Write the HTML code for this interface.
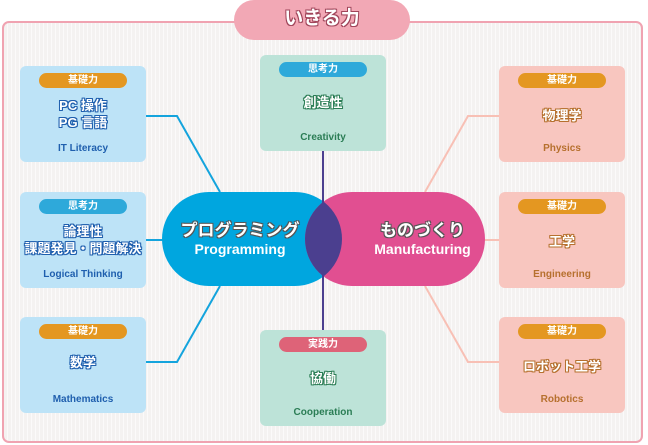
<!DOCTYPE html>
<html><head><meta charset="utf-8"><style>
*{margin:0;padding:0;box-sizing:border-box}
body{width:648px;height:445px;position:relative;background:#fff;font-family:"Liberation Sans","Noto Sans CJK JP",sans-serif;overflow:hidden}
.frame{position:absolute;left:2px;top:21px;width:641px;height:422px;border:2px solid #f0a3b1;border-radius:7px;background:repeating-linear-gradient(90deg,#f4f2f1 0,#f4f2f1 3px,#fbfafa 3px,#fbfafa 4px)}
.title{position:absolute;left:234px;top:0;width:176px;height:40px;border-radius:20px;background:#f2a8b5;color:#fff;font-weight:bold;font-size:19px;text-align:center;line-height:38px;text-shadow:1px 1px 0 #a0455a,-1px -1px 0 #a0455a,1px -1px 0 #a0455a,-1px 1px 0 #a0455a}
.box{position:absolute;width:126px;height:96px;border-radius:6px;text-align:center}
.badge{position:absolute;left:19px;top:7px;width:88px;height:15px;border-radius:8px;color:#fff;font-size:10px;font-weight:bold;line-height:15px}
.t{position:absolute;left:0;width:100%;font-size:13px;font-weight:bold;color:#fff;line-height:17px}
.e{position:absolute;left:0;width:100%;top:77px;font-size:10px;font-weight:bold}
.b .t{text-shadow:1px 1px 0 #1f5fae,-1px -1px 0 #1f5fae,1px -1px 0 #1f5fae,-1px 1px 0 #1f5fae,0 1px 0 #1f5fae,0 -1px 0 #1f5fae,1px 0 0 #1f5fae,-1px 0 0 #1f5fae}
.b{background:#bde3f7}.b .e{color:#1f5fae}
.g{background:#bde3d8}.g .e{color:#2b7d55}
.g .t{text-shadow:1px 1px 0 #2b7d55,-1px -1px 0 #2b7d55,1px -1px 0 #2b7d55,-1px 1px 0 #2b7d55,0 1px 0 #2b7d55,0 -1px 0 #2b7d55,1px 0 0 #2b7d55,-1px 0 0 #2b7d55}
.p{background:#f8c6bf}.p .e{color:#b6702e}
.p .t{text-shadow:1px 1px 0 #b6702e,-1px -1px 0 #b6702e,1px -1px 0 #b6702e,-1px 1px 0 #b6702e,0 1px 0 #b6702e,0 -1px 0 #b6702e,1px 0 0 #b6702e,-1px 0 0 #b6702e}
.o{background:#e49721}.c{background:#2ea9da}.r{background:#de6378}
.main{position:absolute;color:#fff;font-weight:bold;text-align:center}
.jp{font-size:17px;text-shadow:1px 1px 0 #555,-1px -1px 0 #555,1px -1px 0 #555,-1px 1px 0 #555}
.en{font-size:14px}
</style></head><body>
<div class="frame"></div>
<div class="title">いきる力</div>
<svg width="648" height="445" style="position:absolute;left:0;top:0">
<polyline points="146,116 177,116 220,192" fill="none" stroke="#14a4dd" stroke-width="2"/>
<line x1="146" y1="240" x2="165" y2="240" stroke="#14a4dd" stroke-width="2"/>
<polyline points="146,362 177,362 220,286" fill="none" stroke="#14a4dd" stroke-width="2"/>
<polyline points="499,116 468,116 425,192" fill="none" stroke="#f8c0b5" stroke-width="2"/>
<line x1="480" y1="240" x2="499" y2="240" stroke="#f8c0b5" stroke-width="2"/>
<polyline points="499,362 468,362 425,286" fill="none" stroke="#f8c0b5" stroke-width="2"/>
<defs><clipPath id="cb"><rect x="162" y="192" width="180" height="94" rx="47"/></clipPath></defs>
<rect x="162" y="192" width="180" height="94" rx="47" fill="#00a6df"/>
<rect x="305" y="192" width="180" height="94" rx="47" fill="#e14f91"/>
<rect x="305" y="192" width="180" height="94" rx="47" fill="#4b3f8f" clip-path="url(#cb)"/>
<line x1="323" y1="150" x2="323" y2="330" stroke="#4b3f8f" stroke-width="2"/>
</svg>
<div class="main" style="left:175px;top:216px;width:130px"><div class="jp">プログラミング</div><div class="en">Programming</div></div>
<div class="main" style="left:365px;top:216px;width:115px"><div class="jp">ものづくり</div><div class="en">Manufacturing</div></div>

<div class="box b" style="left:20px;top:66px"><div class="badge o">基礎力</div><div class="t" style="top:31px">PC 操作<br>PG 言語</div><div class="e">IT Literacy</div></div>
<div class="box b" style="left:20px;top:192px"><div class="badge c">思考力</div><div class="t" style="top:31px">論理性<br>課題発見・問題解決</div><div class="e">Logical Thinking</div></div>
<div class="box b" style="left:20px;top:317px"><div class="badge o">基礎力</div><div class="t" style="top:37px">数学</div><div class="e">Mathematics</div></div>

<div class="box g" style="left:260px;top:55px"><div class="badge c">思考力</div><div class="t" style="top:39px">創造性</div><div class="e">Creativity</div></div>
<div class="box g" style="left:260px;top:330px"><div class="badge r">実践力</div><div class="t" style="top:40px">協働</div><div class="e">Cooperation</div></div>

<div class="box p" style="left:499px;top:66px"><div class="badge o">基礎力</div><div class="t" style="top:41px">物理学</div><div class="e">Physics</div></div>
<div class="box p" style="left:499px;top:192px"><div class="badge o">基礎力</div><div class="t" style="top:41px">工学</div><div class="e">Engineering</div></div>
<div class="box p" style="left:499px;top:317px"><div class="badge o">基礎力</div><div class="t" style="top:41px">ロボット工学</div><div class="e">Robotics</div></div>
</body></html>
